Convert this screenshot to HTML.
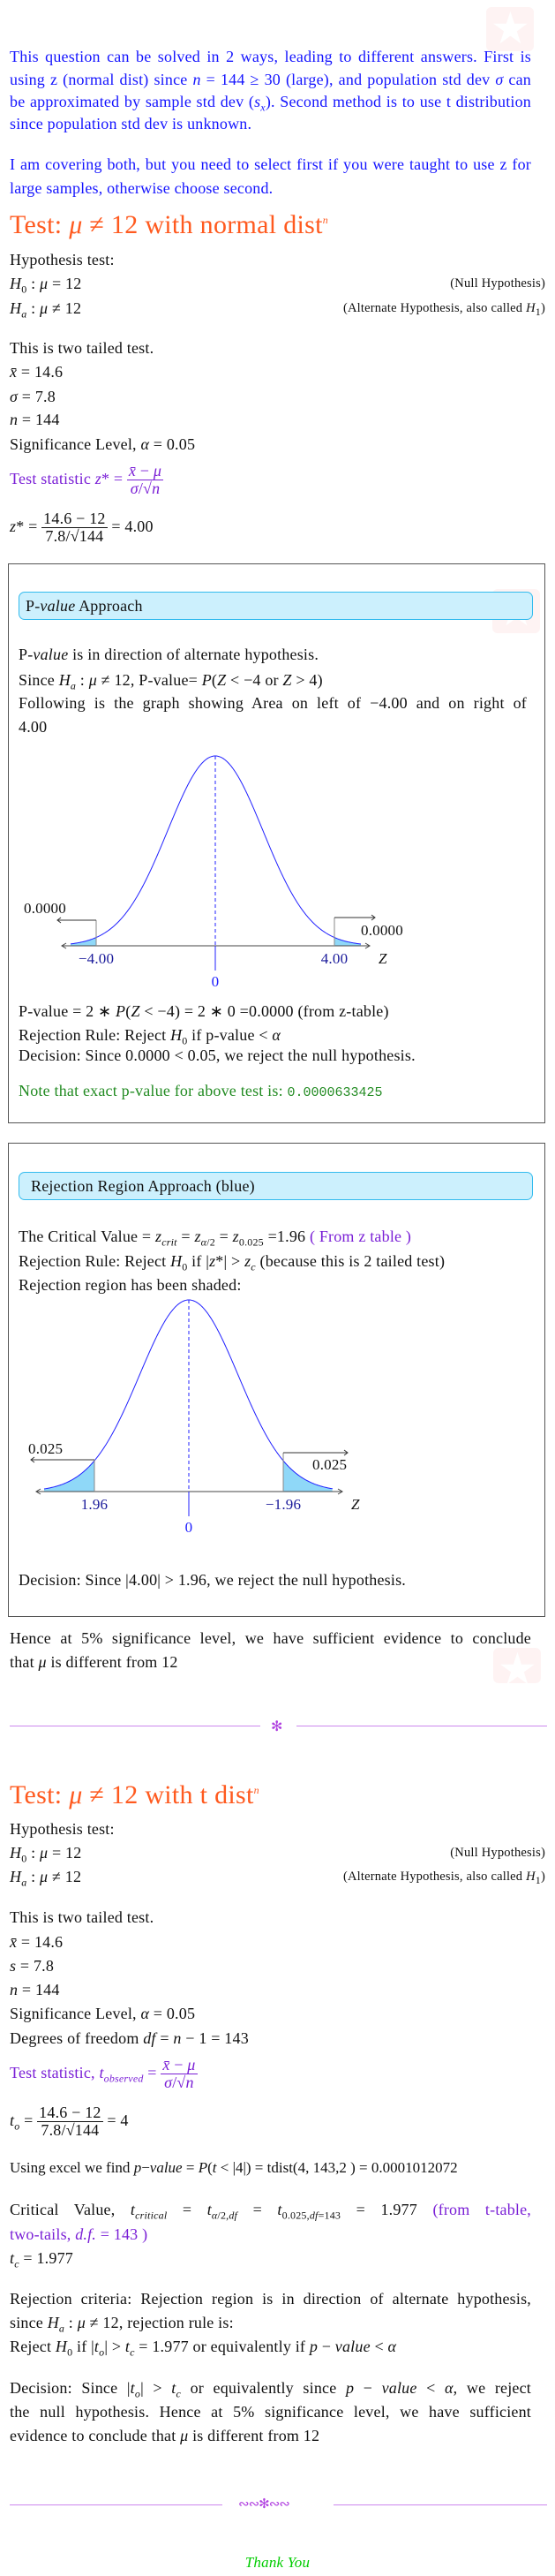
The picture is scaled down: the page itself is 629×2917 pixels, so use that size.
<!DOCTYPE html>
<html><head><meta charset="utf-8">
<style>
body{margin:0;background:#fff;}
#page{position:relative;width:629px;height:2917px;overflow:hidden;font-family:"Liberation Serif",serif;font-size:18px;letter-spacing:0.2px;color:#111;}
.l{position:absolute;left:11px;line-height:20px;white-space:nowrap;}
.j{width:591px;text-align:justify;text-align-last:justify;white-space:normal;}
.r{position:absolute;right:11px;line-height:20px;font-size:14.5px;white-space:nowrap;}
.blue{color:#1515ff}.pur{color:#7a1fd6}.org{color:#ff5a1f}.grn{color:#228b22}
.h{position:absolute;left:11px;font-size:30px;line-height:34px;color:#ff5a1f;white-space:nowrap;letter-spacing:0.3px;}
.box{position:absolute;left:9px;width:607px;border:1.5px solid #555;}
.hdr{position:absolute;left:21px;width:581px;background:#ccf0fd;border:1px solid #33bbee;border-radius:7px;line-height:30px;font-size:18px;}
.wm{position:absolute;width:54px;height:50px;background:#fef3f3;border-radius:6px;}
.wm::after{content:"★";position:absolute;left:5px;top:-4px;font-size:50px;color:#fff;line-height:56px;}
.fr{display:inline-block;vertical-align:middle;text-align:center;line-height:19px;}
.fr .n{display:block;border-bottom:1px solid currentColor;padding:0 2px;}
.fr .d{display:block;padding:0 2px;}
.mono{font-family:"Liberation Mono",monospace;font-size:15px;letter-spacing:0;}
sub,sup{font-size:12px;line-height:0;}
.div{position:absolute;height:1px;background:#cc88ee;}
</style></head><body>
<div id="page">

<div class="wm" style="left:551px;top:8px"></div>

<div class="l j blue" style="top:54px">This question can be solved in 2 ways, leading to different answers. First is</div>
<div class="l j blue" style="top:80px">using z (normal dist) since <i>n</i> = 144 ≥ 30 (large), and population std dev <i>σ</i> can</div>
<div class="l j blue" style="top:105px">be approximated by sample std dev (<i>s<sub>x</sub></i>). Second method is to use t distribution</div>
<div class="l blue" style="top:130px">since population std dev is unknown.</div>
<div class="l j blue" style="top:176px">I am covering both, but you need to select first if you were taught to use z for</div>
<div class="l blue" style="top:203px">large samples, otherwise choose second.</div>

<div class="h" style="top:238px">Test: <i>μ</i> ≠ 12 with normal dist<sup><i>n</i></sup></div>
<div class="l" style="top:284px">Hypothesis test:</div>
<div class="l" style="top:311px"><i>H</i><sub>0</sub> : <i>μ</i> = 12</div>
<div class="r" style="top:311px">(Null Hypothesis)</div>
<div class="l" style="top:339px"><i>H<sub>a</sub></i> : <i>μ</i> ≠ 12</div>
<div class="r" style="top:339px">(Alternate Hypothesis, also called <i>H</i><sub>1</sub>)</div>
<div class="l" style="top:384px">This is two tailed test.</div>
<div class="l" style="top:411px"><i>x̄</i> = 14.6</div>
<div class="l" style="top:439px"><i>σ</i> = 7.8</div>
<div class="l" style="top:465px"><i>n</i> = 144</div>
<div class="l" style="top:493px">Significance Level, <i>α</i> = 0.05</div>
<div class="l pur" style="top:523px;line-height:38px">Test statistic <i>z</i>* = <span class="fr"><span class="n"><i>x̄</i> − <i>μ</i></span><span class="d"><i>σ</i>/√<i>n</i></span></span></div>
<div class="l" style="top:577px;line-height:38px"><i>z</i>* = <span class="fr"><span class="n">14.6 − 12</span><span class="d">7.8/√144</span></span> = 4.00</div>

<div class="box" style="top:638px;height:632px"></div>
<div class="wm" style="left:558px;top:667px"></div>
<div class="hdr" style="top:670px;padding-left:7px;width:574px">P-<i>value</i> Approach</div>
<div class="l" style="left:21px;top:731px">P-<i>value</i> is in direction of alternate hypothesis.</div>
<div class="l" style="left:21px;top:760px">Since <i>H<sub>a</sub></i> : <i>μ</i> ≠ 12, P-value= <i>P</i>(<i>Z</i> &lt; −4 or <i>Z</i> &gt; 4)</div>
<div class="l j" style="left:21px;top:786px;width:576px">Following is the graph showing Area on left of −4.00 and on right of</div>
<div class="l" style="left:21px;top:813px">4.00</div>

<svg id="chart1" style="position:absolute;left:0;top:0" width="629" height="2917"></svg>

<div class="l" style="left:21px;top:1135px">P-value = 2 ∗ <i>P</i>(<i>Z</i> &lt; −4) = 2 ∗ 0 =0.0000 (from z-table)</div>
<div class="l" style="left:21px;top:1162px">Rejection Rule: Reject <i>H</i><sub>0</sub> if p-value &lt; <i>α</i></div>
<div class="l" style="left:21px;top:1185px">Decision: Since 0.0000 &lt; 0.05, we reject the null hypothesis.</div>
<div class="l grn" style="left:21px;top:1225px">Note that exact p-value for above test is: <span class="mono">0.0000633425</span></div>

<div class="box" style="top:1294px;height:535px"></div>
<div class="hdr" style="top:1327px;padding-left:13px;width:568px">Rejection Region Approach (blue)</div>
<div class="l" style="left:21px;top:1390px">The Critical Value = <i>z<sub>crit</sub></i> = <i>z</i><sub><i>α</i>/2</sub> = <i>z</i><sub>0.025</sub> =1.96 <span class="pur">( From z table )</span></div>
<div class="l" style="left:21px;top:1418px">Rejection Rule: Reject <i>H</i><sub>0</sub> if |<i>z</i>*| &gt; <i>z<sub>c</sub></i> (because this is 2 tailed test)</div>
<div class="l" style="left:21px;top:1445px">Rejection region has been shaded:</div>

<svg id="chart2" style="position:absolute;left:0;top:0" width="629" height="2917"></svg>

<div class="l" style="left:21px;top:1779px">Decision: Since |4.00| &gt; 1.96, we reject the null hypothesis.</div>
<div class="l j" style="top:1845px">Hence at 5% significance level, we have sufficient evidence to conclude</div>
<div class="l" style="top:1872px">that <i>μ</i> is different from 12</div>
<div class="wm" style="left:559px;top:1866px;height:40px;overflow:hidden"></div>

<div class="div" style="left:11px;width:284px;top:1954px"></div>
<div class="div" style="left:336px;width:284px;top:1954px"></div>
<div style="position:absolute;left:307px;top:1945px;color:#b040e0;font-size:16px">✻</div>

<div class="h" style="top:2016px">Test: <i>μ</i> ≠ 12 with t dist<sup><i>n</i></sup></div>
<div class="l" style="top:2061px">Hypothesis test:</div>
<div class="l" style="top:2088px"><i>H</i><sub>0</sub> : <i>μ</i> = 12</div>
<div class="r" style="top:2088px">(Null Hypothesis)</div>
<div class="l" style="top:2115px"><i>H<sub>a</sub></i> : <i>μ</i> ≠ 12</div>
<div class="r" style="top:2115px">(Alternate Hypothesis, also called <i>H</i><sub>1</sub>)</div>
<div class="l" style="top:2161px">This is two tailed test.</div>
<div class="l" style="top:2189px"><i>x̄</i> = 14.6</div>
<div class="l" style="top:2216px"><i>s</i> = 7.8</div>
<div class="l" style="top:2243px"><i>n</i> = 144</div>
<div class="l" style="top:2270px">Significance Level, <i>α</i> = 0.05</div>
<div class="l" style="top:2298px">Degrees of freedom <i>df</i> = <i>n</i> − 1 = 143</div>
<div class="l pur" style="top:2328px;line-height:38px">Test statistic, <i>t<sub>observed</sub></i> = <span class="fr"><span class="n"><i>x̄</i> − <i>μ</i></span><span class="d"><i>σ</i>/√<i>n</i></span></span></div>
<div class="l" style="top:2382px;line-height:38px"><i>t<sub>o</sub></i> = <span class="fr"><span class="n">14.6 − 12</span><span class="d">7.8/√144</span></span> = 4</div>
<div class="l" style="top:2445px;font-size:17px;letter-spacing:0">Using excel we find <i>p</i>−<i>value</i> = <i>P</i>(<i>t</i> &lt; |4|) = tdist(4, 143,2 ) = 0.0001012072</div>
<div class="l j" style="top:2492px">Critical Value, <i>t<sub>critical</sub></i> = <i>t</i><sub><i>α</i>/2,<i>df</i></sub> = <i>t</i><sub>0.025,<i>df</i>=143</sub> = 1.977 <span class="pur">(from t-table,</span></div>
<div class="l pur" style="top:2520px">two-tails, <i>d.f.</i> = 143 )</div>
<div class="l" style="top:2547px"><i>t<sub>c</sub></i> = 1.977</div>
<div class="l j" style="top:2593px">Rejection criteria: Rejection region is in direction of alternate hypothesis,</div>
<div class="l" style="top:2620px">since <i>H<sub>a</sub></i> : <i>μ</i> ≠ 12, rejection rule is:</div>
<div class="l" style="top:2647px">Reject <i>H</i><sub>0</sub> if |<i>t<sub>o</sub></i>| &gt; <i>t<sub>c</sub></i> = 1.977 or equivalently if <i>p</i> − <i>value</i> &lt; <i>α</i></div>
<div class="l j" style="top:2694px">Decision: Since |<i>t<sub>o</sub></i>| &gt; <i>t<sub>c</sub></i> or equivalently since <i>p</i> − <i>value</i> &lt; <i>α</i>, we reject</div>
<div class="l j" style="top:2721px">the null hypothesis. Hence at 5% significance level, we have sufficient</div>
<div class="l" style="top:2748px">evidence to conclude that <i>μ</i> is different from 12</div>

<div class="div" style="left:11px;width:241px;top:2836px"></div>
<div class="div" style="left:378px;width:242px;top:2836px"></div>
<div style="position:absolute;left:270px;top:2826px;color:#b040e0;font-size:15px;letter-spacing:-1px">∾∾✻∾∾</div>
<div style="position:absolute;left:0;width:629px;text-align:center;top:2892px;color:#00cc00;font-style:italic;font-size:17px">Thank You</div>
</div>

<script>
// Chart 1 data (p-value approach)
const c1Ticks = [-4.00, 4.00];
const c1TickLabels = ["−4.00", "4.00"];
const c1TailLabels = ["0.0000", "0.0000"];
const c1Center = [0];
// Chart 2 data (rejection region approach)
const c2Ticks = [-1.96, 1.96];
const c2TickLabels = ["1.96", "−1.96"];
const c2TailLabels = ["0.025", "0.025"];
const c2Center = [0];

const NS = "http://www.w3.org/2000/svg";
function mk(svg, tag, attrs) {
  const e = document.createElementNS(NS, tag);
  for (const k in attrs) e.setAttribute(k, attrs[k]);
  svg.appendChild(e);
  return e;
}

function drawChart(id, cfg, ticks, tickLabels, tailLabels, center) {
  const svg = document.getElementById(id);
  const xs = z => cfg.cx + z * cfg.unit;
  const ht = px => cfg.axisY - cfg.peakH * Math.exp(-(px * px) / (2 * cfg.sig * cfg.sig));
  const curveAt = z => ht(xs(z) - cfg.cx);
  const lt = xs(ticks[0]), rt = xs(ticks[1]);
  let d = `M${cfg.x0},${cfg.axisY}`;
  for (let x = cfg.x0; x <= lt; x += 1) d += ` L${x},${ht(x - cfg.cx)}`;
  d += ` L${lt},${ht(lt - cfg.cx)} L${lt},${cfg.axisY} Z`;
  let p = mk(svg, "path", {d: d, fill: "#8fd8f8", stroke: "none"});
  
  
  d = `M${rt},${cfg.axisY} L${rt},${ht(rt - cfg.cx)}`;
  for (let x = rt; x <= cfg.x1; x += 1) d += ` L${x},${ht(x - cfg.cx)}`;
  d += ` L${cfg.x1},${cfg.axisY} Z`;
  p = mk(svg, "path", {d: d, fill: "#8fd8f8", stroke: "none"});
  
  
  const ax = mk(svg, "line", {x1: cfg.ax0, x2: cfg.ax1, y1: cfg.axisY, y2: cfg.axisY, stroke: "#444", "stroke-width": 1});
  
  
  mk(svg, "path", {d: `M${cfg.ax0 + 5},${cfg.axisY - 3} L${cfg.ax0},${cfg.axisY} L${cfg.ax0 + 5},${cfg.axisY + 3}`, fill: "none", stroke: "#444"});
  mk(svg, "path", {d: `M${cfg.ax1 - 5},${cfg.axisY - 3} L${cfg.ax1},${cfg.axisY} L${cfg.ax1 - 5},${cfg.axisY + 3}`, fill: "none", stroke: "#444"});
  d = "";
  for (let x = cfg.x0; x <= cfg.x1; x += 1) d += (d ? " L" : "M") + `${x},${ht(x - cfg.cx).toFixed(2)}`;
  const cv = mk(svg, "path", {d: d, fill: "none", stroke: "#2020ff", "stroke-width": 1});
  
  
  const c = xs(center[0]);
  const cl = mk(svg, "line", {x1: c, x2: c, y1: cfg.axisY - cfg.peakH, y2: cfg.axisY, stroke: "#2020ff", "stroke-dasharray": "4,3"});
  
  
  mk(svg, "line", {x1: c, x2: c, y1: cfg.axisY, y2: cfg.axisY + 28, stroke: "#2020ff"});
  const cz = mk(svg, "text", {x: c, y: cfg.axisY + 46, "text-anchor": "middle", fill: "#2020ff", "font-size": 17, "font-family": "Liberation Serif"});
  cz.textContent = String(center[0]);
  
  
  ticks.forEach((t, i) => {
    const x = xs(t);
    const top = i === 0 ? cfg.leftArrowY : cfg.rightArrowY;
    const vl = mk(svg, "line", {x1: x, x2: x, y1: Math.min(top, curveAt(t)), y2: cfg.axisY, stroke: "#888"});
    
    
    const tl = mk(svg, "text", {x: x, y: cfg.axisY + 20, "text-anchor": "middle", fill: "#1a1a9a", "font-size": 17, "font-family": "Liberation Serif"});
    tl.textContent = tickLabels[i];
    
    
  });
  const la = xs(ticks[0]);
  mk(svg, "line", {x1: la, x2: cfg.leftArrowEnd, y1: cfg.leftArrowY, y2: cfg.leftArrowY, stroke: "#333"});
  mk(svg, "path", {d: `M${cfg.leftArrowEnd + 4},${cfg.leftArrowY - 3} L${cfg.leftArrowEnd},${cfg.leftArrowY} L${cfg.leftArrowEnd + 4},${cfg.leftArrowY + 3}`, fill: "none", stroke: "#333"});
  const ra = xs(ticks[1]);
  mk(svg, "line", {x1: ra, x2: cfg.rightArrowEnd, y1: cfg.rightArrowY, y2: cfg.rightArrowY, stroke: "#333"});
  mk(svg, "path", {d: `M${cfg.rightArrowEnd - 4},${cfg.rightArrowY - 3} L${cfg.rightArrowEnd},${cfg.rightArrowY} L${cfg.rightArrowEnd - 4},${cfg.rightArrowY + 3}`, fill: "none", stroke: "#333"});
  const l1 = mk(svg, "text", {x: cfg.leftLabelX, y: cfg.leftLabelY, "font-size": 17, "font-family": "Liberation Serif", fill: "#111"});
  l1.textContent = tailLabels[0];
  
  
  const l2 = mk(svg, "text", {x: cfg.rightLabelX, y: cfg.rightLabelY, "font-size": 17, "font-family": "Liberation Serif", fill: "#111"});
  l2.textContent = tailLabels[1];
  
  
  const zl = mk(svg, "text", {x: cfg.zX, y: cfg.axisY + 20, "font-size": 17, "font-style": "italic", "font-family": "Liberation Serif", fill: "#111"});
  zl.textContent = "Z";
  
  
}

drawChart("chart1", {cx: 244, unit: 33.75, axisY: 1071, peakH: 215, sig: 54, x0: 80, x1: 409, ax0: 70, ax1: 419,
  leftArrowY: 1042, rightArrowY: 1039, leftArrowEnd: 65, rightArrowEnd: 425, leftLabelX: 27, leftLabelY: 1034,
  rightLabelX: 409, rightLabelY: 1059, zX: 429}, c1Ticks, c1TickLabels, c1TailLabels, c1Center);
drawChart("chart2", {cx: 214, unit: 54.6, axisY: 1689, peakH: 217, sig: 56, x0: 50, x1: 377, ax0: 41, ax1: 388,
  leftArrowY: 1653, rightArrowY: 1645, leftArrowEnd: 35, rightArrowEnd: 394, leftLabelX: 32, leftLabelY: 1646,
  rightLabelX: 354, rightLabelY: 1664, zX: 398}, c2Ticks, c2TickLabels, c2TailLabels, c2Center);
</script>
</body></html>
